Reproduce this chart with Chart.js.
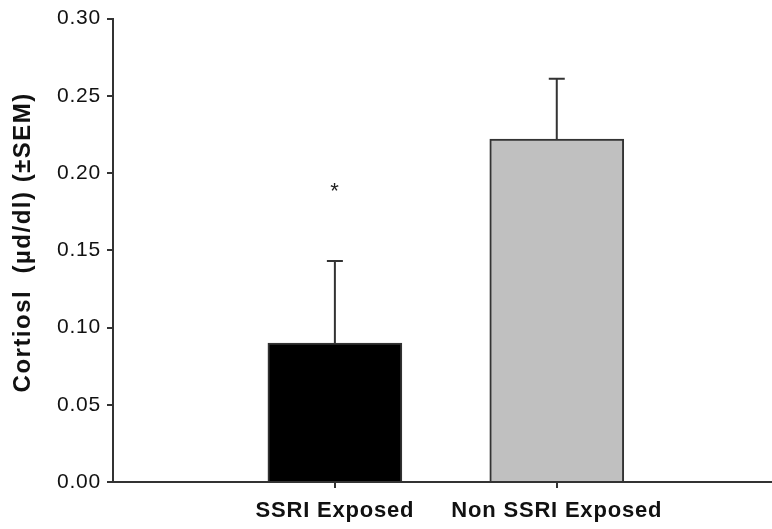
<!DOCTYPE html>
<html>
<head>
<meta charset="utf-8">
<script src="https://cdn.jsdelivr.net/npm/chart.js@4"></script>
<style>
  body { margin: 0; background: #fff; }
  #wrap { width: 772px; height: 529px; position: relative; }
</style>
</head>
<body>
<div id="wrap"><canvas id="cortisolCanvas"></canvas></div>
<script>
const groups = ["SSRI Exposed", "Non SSRI Exposed"];
const groupPos = [1, 2];
const means = [0.09, 0.222];
const sems = [0.053, 0.039];
const barColors = ["#000000", "#c0c0c0"];
const starValue = [0.19, null];
const yTicks = [0, 0.05, 0.1, 0.15, 0.2, 0.25, 0.3];
const yTitle = "Cortiosl  (µd/dl) (±SEM)";

const axisColor = "#333333";
const fontFamily = "'Liberation Sans', Arial, sans-serif";

// slightly wider tracking for the chart text, like the original figure
const trackingPlugin = {
  id: "tracking",
  beforeDraw(chart) {
    chart.ctx.letterSpacing = "0.8px";
  }
};

const errorBarPlugin = {
  id: "errorBars",
  afterDatasetsDraw(chart) {
    const ctx = chart.ctx;
    const x = chart.scales.x;
    const y = chart.scales.y;
    ctx.save();
    ctx.strokeStyle = axisColor;
    ctx.lineWidth = 2;
    means.forEach((m, i) => {
      const px = x.getPixelForValue(groupPos[i]);
      const top = y.getPixelForValue(m + sems[i]);
      const base = y.getPixelForValue(m);
      ctx.beginPath();
      ctx.moveTo(px, base);
      ctx.lineTo(px, top);
      ctx.moveTo(px - 8, top);
      ctx.lineTo(px + 8, top);
      ctx.stroke();
      if (starValue[i] != null) {
        ctx.fillStyle = "#222";
        ctx.font = "22px " + fontFamily;
        ctx.textAlign = "center";
        ctx.textBaseline = "middle";
        ctx.fillText("*", px, y.getPixelForValue(starValue[i]) + 3);
      }
    });
    ctx.restore();
  }
};

const yTitlePlugin = {
  id: "yTitle",
  afterDraw(chart) {
    const ctx = chart.ctx;
    const area = chart.chartArea;
    ctx.save();
    ctx.letterSpacing = "1.5px";
    ctx.fillStyle = "#111";
    ctx.font = "bold 24px " + fontFamily;
    ctx.textAlign = "center";
    ctx.textBaseline = "middle";
    ctx.translate(23, (area.top + area.bottom) / 2 - 8);
    ctx.rotate(-Math.PI / 2);
    ctx.fillText(yTitle, 0, 0);
    ctx.restore();
  }
};

const canvas = document.getElementById("cortisolCanvas");
new Chart(canvas, {
  type: "bar",
  data: {
    datasets: [{
      data: means.map((m, i) => ({ x: groupPos[i], y: m })),
      backgroundColor: barColors,
      borderColor: axisColor,
      borderWidth: 2,
      borderSkipped: "bottom",
      barThickness: 134,
    }]
  },
  options: {
    responsive: true,
    maintainAspectRatio: false,
    animation: false,
    events: [],
    layout: { padding: { top: 17, right: 0, left: 0, bottom: 0 } },
    plugins: {
      legend: { display: false },
      tooltip: { enabled: false },
    },
    scales: {
      x: {
        type: "linear",
        min: 0,
        max: 2.97,
        offset: false,
        afterBuildTicks: (s) => { s.ticks = groupPos.map(v => ({ value: v })); },
        afterFit: (s) => { s.height = 47; },
        ticks: {
          callback: (v) => groups[groupPos.indexOf(v)] || "",
          color: "#111",
          font: { family: fontFamily, size: 22, weight: "bold" },
          padding: 10,
          maxRotation: 0,
          autoSkip: false,
        },
        grid: {
          offset: false,
          drawOnChartArea: false,
          drawTicks: true,
          tickLength: 6,
          color: axisColor,
          lineWidth: 2,
        },
        border: { color: axisColor, width: 2 },
      },
      y: {
        min: 0,
        max: 0.3,
        afterBuildTicks: (s) => { s.ticks = yTicks.map(v => ({ value: v })); },
        afterFit: (s) => { s.width = 113; },
        ticks: {
          callback: (v) => v.toFixed(2),
          color: "#111",
          font: { family: fontFamily, size: 21 },
          padding: 6,
        },
        grid: {
          drawOnChartArea: false,
          drawTicks: true,
          tickLength: 6,
          color: axisColor,
          lineWidth: 2,
        },
        border: { color: axisColor, width: 2 },
      },
    },
  },
  plugins: [trackingPlugin, errorBarPlugin, yTitlePlugin],
});
</script>
</body>
</html>
